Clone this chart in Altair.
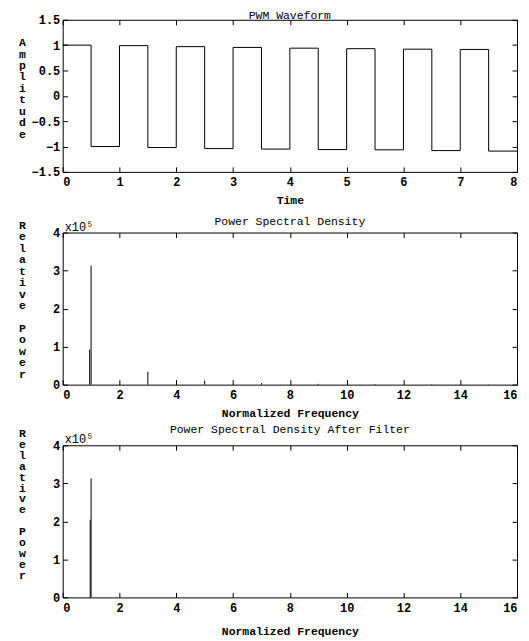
import altair as alt
import pandas as pd

FONT = "Liberation Mono"

# PWM waveform (step values, each holds until next time)
pwm_time = [0.0, 0.5, 1.0, 1.5, 2.0, 2.5, 3.0, 3.5, 4.0, 4.5, 5.0, 5.5, 6.0, 6.5, 7.0, 7.5, 8.0]
pwm_amp = [1.00, -1.00, 0.99, -1.02, 0.97, -1.04, 0.955, -1.05, 0.94, -1.06, 0.93, -1.065,
           0.92, -1.08, 0.915, -1.09, -1.09]

# Power spectral density (units of 1e5)
psd_freq = [0.95, 1.0, 3.0, 5.0, 7.0, 9.0, 11.0, 13.0, 15.0]
psd_power = [0.92, 3.13, 0.34, 0.11, 0.04, 0.02, 0.015, 0.01, 0.008]

# PSD after filter
flt_freq = [0.97, 1.0]
flt_power = [2.04, 3.13]

t_ticks = [0, 1, 2, 3, 4, 5, 6, 7, 8]
a_ticks = [-1.5, -1, -0.5, 0, 0.5, 1, 1.5]
f_ticks = [0, 2, 4, 6, 8, 10, 12, 14, 16]
p_ticks = [0, 1, 2, 3, 4]

W = 457
H = 153
BLANK = "\u2800"


def main_x(title, values, title_pad=7):
    return alt.Axis(values=values, title=title, orient="bottom", offset=-5, tickSize=5,
                    domain=False, grid=False, labelPadding=5, titlePadding=title_pad,
                    tickColor="black", labelColor="black", titleColor="black")


def main_y(title_chars, values, title_y, line_h, fmt="~g"):
    return alt.Axis(values=values, title=title_chars, orient="left", offset=-5, tickSize=5,
                    domain=False, grid=False, labelPadding=3, titleAngle=0, format=fmt,
                    titleAlign="center", titleBaseline="top", titleX=-46, titleY=title_y,
                    titleLineHeight=line_h, tickColor="black", labelColor="black",
                    titleColor="black")


def mirror_x(values):
    return alt.Axis(values=values, orient="top", offset=-5, tickSize=5, labels=False,
                    domain=False, grid=False, title=None, tickColor="black")


def mirror_y(values):
    return alt.Axis(values=values, orient="right", offset=-5, tickSize=5, labels=False,
                    domain=False, grid=False, title=None, tickColor="black")


# ---- top panel ----
pwm_df = pd.DataFrame({"t": pwm_time, "a": pwm_amp})
xs = alt.Scale(domain=[0, 8], nice=False)
ys = alt.Scale(domain=[-1.5, 1.5], nice=False)
top_line = alt.Chart(pwm_df).mark_line(interpolate="step-after", color="black", strokeWidth=1).encode(
    x=alt.X("t:Q", scale=xs, axis=main_x("Time", t_ticks)),
    y=alt.Y("a:Q", scale=ys, axis=main_y(list("Amplitude"), a_ticks, 17, 11.5)),
)
top_mirror = alt.Chart(pwm_df).mark_point(opacity=0).encode(
    x=alt.X("t:Q", scale=xs, axis=mirror_x(t_ticks)),
    y=alt.Y("a:Q", scale=ys, axis=mirror_y(a_ticks)),
)
top = alt.layer(top_line, top_mirror).resolve_axis(x="independent", y="independent").properties(
    width=W, height=H, title=alt.TitleParams("PWM Waveform", offset=-8)
)


def psd_panel(freq, power, title, title_y, line_h, title_pad):
    df = pd.DataFrame({"f": freq, "p": power})
    fx = alt.Scale(domain=[0, 16], nice=False)
    py = alt.Scale(domain=[0, 4], nice=False)
    spikes = alt.Chart(df).mark_rule(color="black", strokeWidth=1).encode(
        x=alt.X("f:Q", scale=fx, axis=main_x("Normalized Frequency", f_ticks, title_pad)),
        y=alt.Y("p:Q", scale=py,
                axis=main_y(list("Relative") + [BLANK] + list("Power"), p_ticks, title_y, line_h)),
        y2=alt.datum(0),
    )
    mirror = alt.Chart(df).mark_point(opacity=0).encode(
        x=alt.X("f:Q", scale=fx, axis=mirror_x(f_ticks)),
        y=alt.Y("p:Q", scale=py, axis=mirror_y(p_ticks)),
    )
    exp = alt.Chart(pd.DataFrame({"s": ["x10\u2075"]})).mark_text(
        align="left", baseline="bottom", dx=2, dy=1, font=FONT, fontSize=12, color="black"
    ).encode(
        x=alt.X("z:Q", scale=fx, axis=None),
        y=alt.Y("w:Q", scale=py, axis=None),
        text="s:N",
    ).transform_calculate(z="0", w="4")
    return alt.layer(spikes, mirror, exp).resolve_axis(x="independent", y="independent").properties(
        width=W, height=H, title=alt.TitleParams(title, offset=-8)
    )


mid = psd_panel(psd_freq, psd_power, "Power Spectral Density", -13, 11.5, 7)
bot = psd_panel(flt_freq, flt_power, "Power Spectral Density After Filter", -18, 11, 12)

chart = alt.vconcat(top, mid, bot, spacing=61, bounds="flush").configure(
    font=FONT, padding={"left": 9, "top": 0, "right": 0, "bottom": 0}
).configure_view(stroke="black", strokeWidth=1).configure_axis(
    labelFont=FONT, titleFont=FONT, labelFontSize=12, titleFontSize=11.5,
    labelFontWeight="bold", titleFontWeight="bold",
).configure_title(font=FONT, fontSize=11.5, fontWeight="normal", anchor="middle", color="black")

chart.save("out.html", embed_options={"renderer": "svg", "actions": False})
